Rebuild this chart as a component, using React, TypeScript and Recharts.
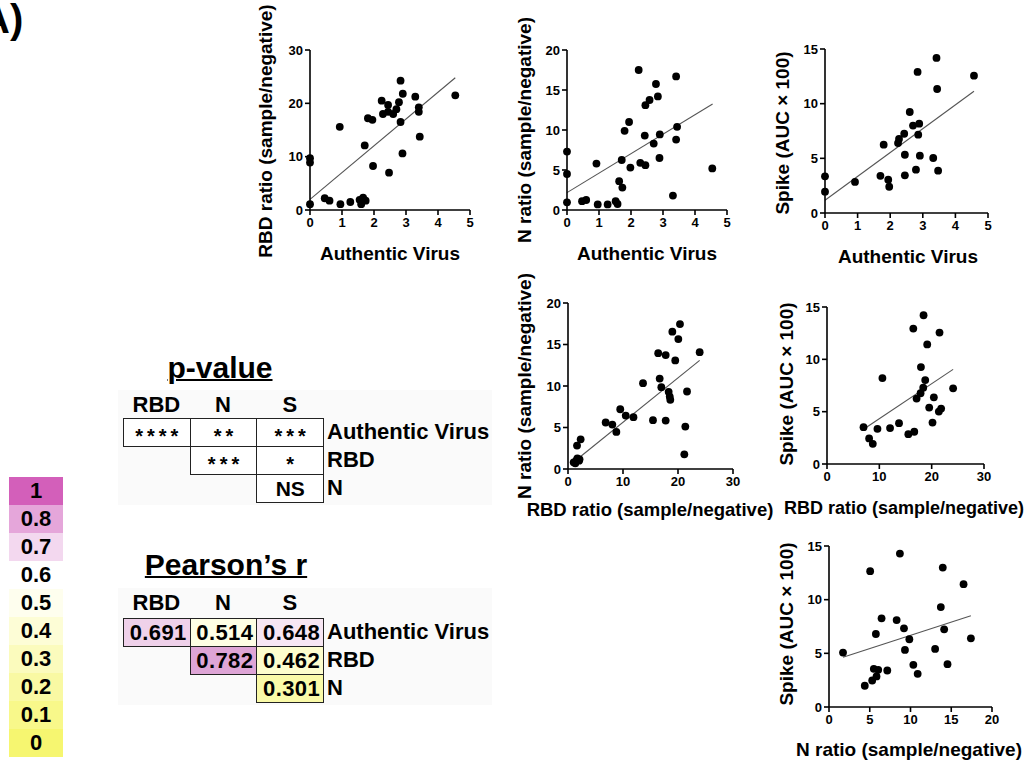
import React from 'react';
import { ScatterChart, Scatter, XAxis, YAxis, ReferenceLine, Label } from 'recharts';

const FONT = '"Liberation Sans", Arial, Helvetica, sans-serif';

type Pt = { x: number; y: number };
const toPts = (a: number[][]): Pt[] => a.map(([x, y]) => ({ x, y }));

// ---------- scatter data ----------
const avVsRbd = toPts([
  [0, 1.1], [0, 9.7], [0, 8.9], [0.46, 2.2], [0.61, 1.75], [0.93, 15.6], [0.95, 1.1],
  [1.26, 1.5], [1.55, 1.9], [1.6, 1.1], [1.66, 2.3], [1.74, 1.75], [1.71, 12.1],
  [1.81, 17.2], [1.95, 16.9], [1.97, 8.25], [2.24, 20.5], [2.28, 18], [2.44, 19.7],
  [2.44, 18.4], [2.47, 7], [2.6, 18], [2.7, 18.9], [2.78, 20.2], [2.83, 24.25],
  [2.83, 16.5], [2.89, 10.6], [2.9, 21.8], [3.29, 21.25], [3.4, 19.25], [3.4, 18.4],
  [3.43, 13.75], [4.54, 21.5],
]);
const avVsN = toPts([
  [0, 7.3], [0, 4.5], [0, 0.96], [0.47, 1.1], [0.6, 1.25], [0.92, 5.8], [0.96, 0.7],
  [1.27, 0.7], [1.52, 1.1], [1.58, 0.75], [1.63, 3.6], [1.73, 2.8], [1.71, 6.25],
  [1.8, 9.9], [1.94, 11], [1.98, 5.3], [2.24, 17.5], [2.29, 5.9], [2.45, 13.1],
  [2.43, 9.3], [2.45, 5.6], [2.58, 13.75], [2.71, 8.3], [2.78, 15.75], [2.84, 14.2],
  [2.89, 6.5], [2.9, 9.45], [3.31, 1.8], [3.41, 16.7], [3.41, 8.8], [3.44, 10.4],
  [4.54, 5.2],
]);
const avVsSpike = toPts([
  [0, 3.35], [0, 1.95], [0.92, 2.84], [1.7, 3.4], [1.8, 6.25], [1.94, 3.05], [1.97, 2.4],
  [2.24, 6.4], [2.27, 6.77], [2.43, 7.25], [2.45, 5.33], [2.45, 3.45], [2.6, 9.24],
  [2.7, 8], [2.79, 3.96], [2.84, 12.9], [2.86, 7.16], [2.89, 8.17], [2.91, 5.24],
  [3.32, 5.03], [3.42, 14.18], [3.44, 11.34], [3.47, 3.87], [4.57, 12.56],
]);
const rbdVsN = toPts([
  [1.03, 0.8], [1.33, 0.68], [1.5, 1.0], [1.7, 1.29], [2.0, 1.0], [2.1, 1.17], [1.64, 2.82],
  [2.3, 3.58], [6.85, 5.6], [8.06, 5.35], [8.79, 4.47], [9.5, 7.2], [10.5, 6.44],
  [11.9, 6.24], [13.64, 10.34], [15.45, 5.88], [16.4, 13.96], [16.67, 10.9], [16.97, 9.86],
  [17.76, 13.72], [17.76, 5.84], [18.3, 9.3], [18.5, 8.73], [18.6, 8.33], [18.97, 16.54],
  [19.5, 13.08], [20.06, 15.65], [20.36, 17.46], [21.15, 1.77], [21.33, 5.11],
  [21.64, 9.34], [23.94, 14.08],
]);
const rbdVsSpike = toPts([
  [6.98, 3.52], [8.05, 2.44], [8.75, 1.93], [9.64, 3.36], [10.59, 8.21], [12.05, 3.43],
  [13.76, 3.9], [15.54, 2.85], [16.68, 3.08], [16.49, 12.94], [17.12, 6.25], [17.88, 6.76],
  [17.95, 9.26], [18.39, 7.29], [18.45, 14.21], [18.77, 8.02], [19.15, 11.42], [19.53, 5.39],
  [20.16, 3.96], [20.42, 6.37], [21.37, 5.01], [21.5, 12.56], [21.81, 5.3], [24.1, 7.23],
]);
const nVsSpike = toPts([
  [1.72, 5.07], [4.39, 1.98], [5.05, 12.65], [5.3, 2.47], [5.5, 3.56], [5.83, 2.85],
  [5.75, 6.8], [6.04, 3.46], [6.45, 8.26], [7.15, 3.4], [8.3, 8.1], [8.7, 14.29],
  [9.2, 7.33], [9.32, 5.32], [9.86, 6.31], [10.35, 3.93], [10.88, 3.09], [13.02, 5.41],
  [13.72, 9.31], [13.96, 12.99], [14.13, 7.24], [14.54, 3.99], [16.51, 11.44], [17.41, 6.4],
]);

// regression line end points
const fitAvRbd = toPts([[0, 2], [4.54, 24.8]]);
const fitAvN = toPts([[0, 2.17], [4.55, 13.25]]);
const fitAvSpike = toPts([[0, 1.16], [4.57, 11.13]]);
const fitRbdN = toPts([[1.5, 1.09], [23.94, 13.08]]);
const fitRbdSpike = toPts([[7.48, 3.49], [24.1, 9.04]]);
const fitNSpike = toPts([[1.72, 4.64], [17.41, 8.5]]);

// axis ticks
const ticksAv = [0, 1, 2, 3, 4, 5];
const ticks0to30by10 = [0, 10, 20, 30];
const ticks0to20by5 = [0, 5, 10, 15, 20];
const ticks0to15by5 = [0, 5, 10, 15];

// titles
const tAV = 'Authentic Virus';
const tRBD = 'RBD ratio (sample/negative)';
const tN = 'N ratio (sample/negative)';
const tSpike = 'Spike (AUC \u00d7 100)';

// ---------- tables ----------
const colHeaders = ['RBD', 'N', 'S'];
const rowLabels = ['Authentic Virus', 'RBD', 'N'];
const pValues: (string | null)[][] = [
  ['****', '**', '***'],
  [null, '***', '*'],
  [null, null, 'NS'],
];
const pearsonR: (number | null)[][] = [
  [0.691, 0.514, 0.648],
  [null, 0.782, 0.462],
  [null, null, 0.301],
];
const legendLabels = ['1', '0.8', '0.7', '0.6', '0.5', '0.4', '0.3', '0.2', '0.1', '0'];

// styles (colours)
const legendColors = ['#d35fba', '#e5a6da', '#f3d8ef', '#ffffff', '#fefeee', '#fdfdd6', '#fbfbbd', '#f9f9a3', '#f8f88a', '#f6f670'];
const rCellColors: (string | null)[][] = [
  ['#efd1ea', '#fefee4', '#f7e6f3'],
  [null, '#dea5d6', '#fdfdcd'],
  [null, null, '#fafaa8'],
];

// ---------- scatter panel ----------
interface PanelCfg {
  left: number; top: number; w: number; h: number;
  xDomain: [number, number]; xTicks: number[];
  yDomain: [number, number]; yTicks: number[];
  xTitle: string; yTitle: string;
  xTitleX: number; xTitleY: number; yTitleX: number; yTitleY: number;
  xTitleSize?: number;
  data: Pt[]; fit: Pt[];
}

const dot = (p: any) => <circle cx={p.cx} cy={p.cy} r={3.9} fill="#000" />;

const tickStyle = { fontSize: 13, fontWeight: 'bold', fill: '#000', fontFamily: FONT };
const lineStyle = { stroke: '#000', strokeWidth: 1.6 };

function Panel(p: PanelCfg) {
  const ML = 90, MT = 60, MR = 60, XH = 70;
  const sx = p.left - ML;
  const sy = p.top - MT;
  const W = ML + p.w + MR;
  const H = MT + p.h + XH;
  const xTitle = () => (
    <text x={p.xTitleX - sx} y={p.xTitleY - sy} textAnchor="middle" dominantBaseline="central"
      fontSize={p.xTitleSize || 19} fontWeight="bold" fontFamily={FONT} fill="#000">{p.xTitle}</text>
  );
  const yx = p.yTitleX - sx, yy = p.yTitleY - sy;
  const yTitle = () => (
    <text x={yx} y={yy} transform={`rotate(-90, ${yx}, ${yy})`} textAnchor="middle" dominantBaseline="central"
      fontSize={19} fontWeight="bold" fontFamily={FONT} fill="#000">{p.yTitle}</text>
  );
  return (
    <div style={{ position: 'absolute', left: sx, top: sy, width: W, height: H }}>
      <ScatterChart width={W} height={H} margin={{ top: MT, right: MR, bottom: 0, left: 0 }}>
        <XAxis type="number" dataKey="x" domain={p.xDomain} ticks={p.xTicks} interval={0} height={XH}
          tickSize={5} tickMargin={3} axisLine={lineStyle} tickLine={lineStyle} tick={tickStyle}>
          <Label content={xTitle} />
        </XAxis>
        <YAxis type="number" dataKey="y" domain={p.yDomain} ticks={p.yTicks} interval={0} width={ML}
          tickSize={5} tickMargin={2} axisLine={lineStyle} tickLine={lineStyle} tick={tickStyle}>
          <Label content={yTitle} />
        </YAxis>
        <ReferenceLine segment={p.fit} stroke="#555" strokeWidth={1.1} ifOverflow="visible" />
        <Scatter data={p.data} shape={dot} isAnimationActive={false} />
      </ScatterChart>
    </div>
  );
}

const panels: PanelCfg[] = [
  { left: 310, top: 50, w: 160, h: 160, xDomain: [0, 5], xTicks: ticksAv, yDomain: [0, 30], yTicks: ticks0to30by10,
    xTitle: tAV, yTitle: tRBD, xTitleX: 390, xTitleY: 253, yTitleX: 265, yTitleY: 131, data: avVsRbd, fit: fitAvRbd },
  { left: 567, top: 50, w: 160, h: 160, xDomain: [0, 5], xTicks: ticksAv, yDomain: [0, 20], yTicks: ticks0to20by5,
    xTitle: tAV, yTitle: tN, xTitleX: 647, xTitleY: 253, yTitleX: 524, yTitleY: 130, data: avVsN, fit: fitAvN },
  { left: 825, top: 49, w: 163, h: 164, xDomain: [0, 5], xTicks: ticksAv, yDomain: [0, 15], yTicks: ticks0to15by5,
    xTitle: tAV, yTitle: tSpike, xTitleX: 908, xTitleY: 256, yTitleX: 782, yTitleY: 133, data: avVsSpike, fit: fitAvSpike },
  { left: 568, top: 303, w: 165, h: 166, xDomain: [0, 30], xTicks: ticks0to30by10, yDomain: [0, 20], yTicks: ticks0to20by5,
    xTitle: tRBD, yTitle: tN, xTitleX: 650, xTitleY: 509, yTitleX: 524, yTitleY: 386, xTitleSize: 18.5, data: rbdVsN, fit: fitRbdN },
  { left: 827, top: 307, w: 157, h: 157, xDomain: [0, 30], xTicks: ticks0to30by10, yDomain: [0, 15], yTicks: ticks0to15by5,
    xTitle: tRBD, yTitle: tSpike, xTitleX: 904, xTitleY: 508, yTitleX: 786, yTitleY: 384, xTitleSize: 18, data: rbdVsSpike, fit: fitRbdSpike },
  { left: 829, top: 546, w: 163, h: 161, xDomain: [0, 20], xTicks: ticks0to20by5, yDomain: [0, 15], yTicks: ticks0to15by5,
    xTitle: tN, yTitle: tSpike, xTitleX: 909, xTitleY: 749, yTitleX: 786, yTitleY: 624, data: nVsSpike, fit: fitNSpike },
];

// ---------- tables ----------
const TBL_LEFT = 123;
const COL_W = 66.7;
const ROW_H = 28;

function MatrixTable({ title, titleCx, titleTop, headerTop, rowsTop, cells, colors, kind }: {
  title: string; titleCx: number; titleTop: number; headerTop: number; rowsTop: number;
  cells: (string | null)[][]; colors?: (string | null)[][]; kind: 'p' | 'r';
}) {
  const base: React.CSSProperties = { position: 'absolute', fontFamily: FONT, fontWeight: 'bold', color: '#000', whiteSpace: 'nowrap' };
  return (
    <>
      <div style={{ ...base, left: titleCx - 150, width: 300, top: titleTop, fontSize: 30, lineHeight: '36px', textAlign: 'center', textDecoration: 'underline', textDecorationThickness: '2px' }}>{title}</div>
      {colHeaders.map((h, c) => (
        <div key={h} style={{ ...base, left: TBL_LEFT + c * COL_W, width: COL_W, top: headerTop, fontSize: 22, lineHeight: '26px', textAlign: 'center' }}>{h}</div>
      ))}
      {cells.map((row, r) => row.map((v, c) => {
        if (v === null) return null;
        const isStars = kind === 'p' && v !== 'NS';
        return (
          <div key={`${r}-${c}`} style={{
            ...base, left: TBL_LEFT + c * COL_W, top: rowsTop + r * ROW_H, width: COL_W + 1, height: ROW_H + 1,
            boxSizing: 'border-box', border: '1px solid #222', background: colors ? (colors[r][c] || '#fff') : '#fff',
            fontSize: kind === 'r' ? 22 : (isStars ? 20 : 21), lineHeight: `${ROW_H - 1}px`,
            textAlign: kind === 'r' ? 'right' : 'center', paddingRight: kind === 'r' ? 3 : 0,
            letterSpacing: kind === 'r' ? 0.4 : 0,
          }}>
            {isStars
              ? <span style={{ position: 'relative', top: 3.5, letterSpacing: 4, marginRight: -4 }}>{v}</span>
              : v}
          </div>
        );
      }))}
      {rowLabels.map((l, r) => (
        <div key={l} style={{ ...base, left: 327, top: rowsTop + r * ROW_H, fontSize: 22, lineHeight: `${ROW_H}px` }}>{l}</div>
      ))}
    </>
  );
}

function ColorLegend() {
  return (
    <>
      {legendLabels.map((l, i) => (
        <div key={l} style={{
          position: 'absolute', left: 9, top: 477 + i * 28, width: 54, height: 28,
          background: legendColors[i], fontFamily: FONT, fontWeight: 'bold', fontSize: 22,
          lineHeight: '28px', textAlign: 'center', color: '#000',
        }}>{l}</div>
      ))}
    </>
  );
}

export default function App() {
  return (
    <div style={{ position: 'absolute', left: 0, top: 0, width: 1028, height: 767, background: '#fff', overflow: 'hidden', fontFamily: FONT }}>
      <div style={{ position: 'absolute', left: -19, top: -1, fontSize: 40, lineHeight: '40px', fontWeight: 'bold', fontFamily: FONT }}>A)</div>
      <div style={{ position: 'absolute', left: 118, top: 390, width: 374, height: 115, background: '#fafafa' }} />
      <div style={{ position: 'absolute', left: 118, top: 588, width: 374, height: 117, background: '#fafafa' }} />
      {panels.map((p, i) => <Panel key={i} {...p} />)}
      <MatrixTable title="p-value" titleCx={220} titleTop={350} headerTop={392} rowsTop={418} cells={pValues} kind="p" />
      <MatrixTable title={'Pearson\u2019s r'} titleCx={226} titleTop={547} headerTop={590} rowsTop={618}
        cells={pearsonR.map(row => row.map(v => (v === null ? null : v.toFixed(3))))} colors={rCellColors} kind="r" />
      <ColorLegend />
    </div>
  );
}
